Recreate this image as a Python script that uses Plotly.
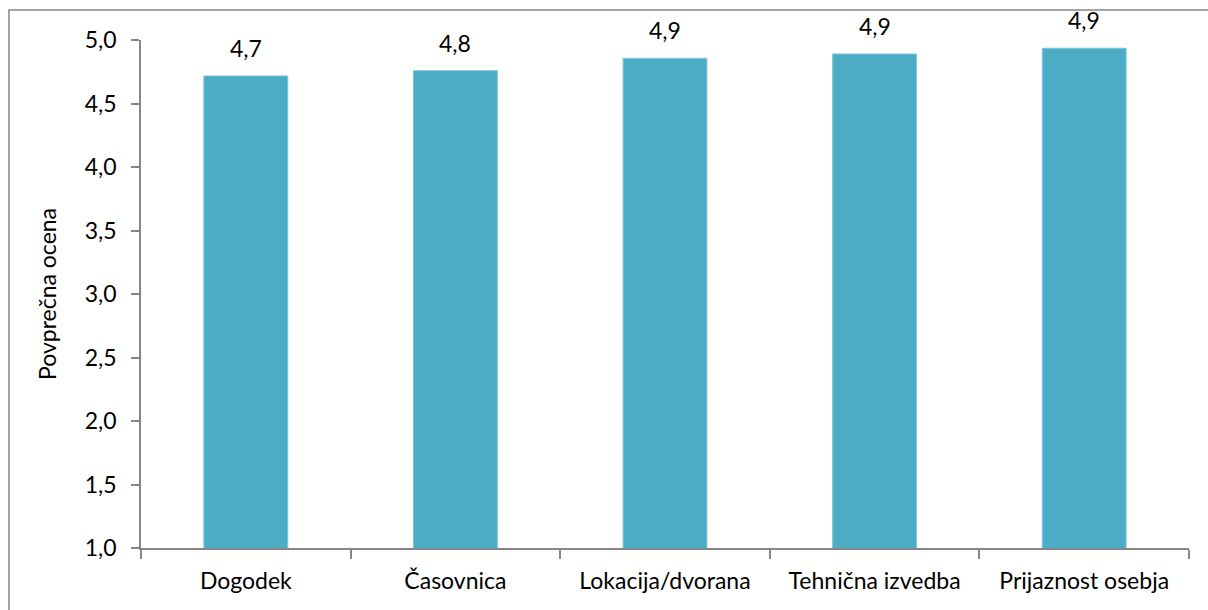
import plotly.graph_objects as go

# Average ratings per category
categories = ["Dogodek", "Časovnica", "Lokacija/dvorana", "Tehnična izvedba", "Prijaznost osebja"]
ratings = [4.717, 4.758, 4.856, 4.890, 4.935]
tick_values = [1.0, 1.5, 2.0, 2.5, 3.0, 3.5, 4.0, 4.5, 5.0]
y_title = "Povprečna ocena"

bar_color = "#4BACC6"
axis_color = "#868686"
font_family = "Lato, 'Open Sans', sans-serif"
font_size = 23

fig = go.Figure()
fig.add_trace(go.Bar(
    x=categories,
    y=ratings,
    marker=dict(color=bar_color, line=dict(color="#7fc4d6", width=1)),
    width=0.4,
    textposition="none",
    hoverinfo="x+y",
))

# Value labels above each bar
for cat, val in zip(categories, ratings):
    fig.add_annotation(
        x=cat, y=val, text=f"{val:.1f}".replace(".", ","),
        showarrow=False, yanchor="bottom", yshift=12,
        font=dict(size=font_size, color="#000000", family=font_family),
    )

# Outer chart frame
fig.add_shape(
    type="rect", xref="paper", yref="paper",
    x0=-0.126, x1=1.2, y0=-0.5, y1=1.059,
    line=dict(color=axis_color, width=1.5), fillcolor="rgba(0,0,0,0)",
    layer="below",
)

fig.update_layout(
    width=1208, height=610,
    margin=dict(l=141, r=19, t=40, b=62),
    paper_bgcolor="white", plot_bgcolor="white",
    separators=", ",
    showlegend=False,
    font=dict(family=font_family, size=font_size, color="#000000"),
)
fig.update_xaxes(
    showline=True, linecolor=axis_color, linewidth=1.5,
    ticks="outside", ticklen=9, tickcolor=axis_color, tickwidth=1.5,
    tickson="boundaries", ticklabelstandoff=12,
    showgrid=False, tickfont=dict(size=font_size),
)
fig.update_yaxes(
    range=[1.0, 5.0], tickvals=tick_values, tickformat=".1f",
    showline=True, linecolor=axis_color, linewidth=1.5,
    ticks="outside", ticklen=8, tickcolor=axis_color, tickwidth=1.5,
    ticklabelstandoff=10,
    showgrid=False, zeroline=False, tickfont=dict(size=font_size),
    title=dict(text=y_title, font=dict(size=font_size), standoff=22),
)

fig.write_html("out.html")
